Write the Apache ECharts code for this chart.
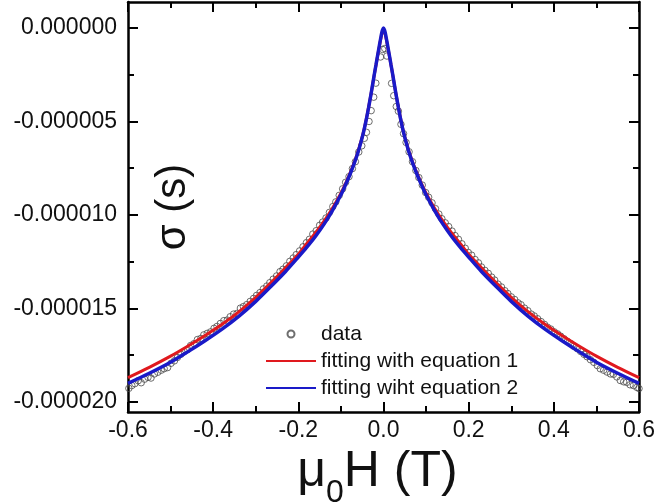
<!DOCTYPE html>
<html>
<head>
<meta charset="utf-8">
<script src="https://cdn.jsdelivr.net/npm/echarts@6/dist/echarts.min.js"></script>
<style>html,body{margin:0;padding:0;background:#fff;}#chart{width:656px;height:503px;}</style>
</head>
<body>
<div id="chart"></div>
<script>
// ---- data (sigma values in units of 1e-6 S) ----
const xTicks = [-0.6, -0.4, -0.2, 0.0, 0.2, 0.4, 0.6];
const yMajorTicks = [-20, -15, -10, -5, 0];
const yMinorTicks = [-17.5, -12.5, -7.5, -2.5];

// measured data, field (T)
const dataB = [
 -0.598,-0.591,-0.584,-0.576,-0.569,-0.561,-0.553,-0.546,-0.538,-0.530,-0.522,-0.515,-0.507,-0.499,-0.491,-0.484,-0.476,-0.468,-0.460,-0.453,
 -0.445,-0.437,-0.429,-0.422,-0.414,-0.406,-0.398,-0.391,-0.383,-0.375,-0.367,-0.360,-0.352,-0.344,-0.336,-0.329,-0.321,-0.313,-0.305,-0.298,
 -0.290,-0.282,-0.274,-0.267,-0.259,-0.251,-0.243,-0.236,-0.228,-0.220,-0.212,-0.205,-0.197,-0.189,-0.181,-0.174,-0.166,-0.158,-0.150,-0.143,
 -0.135,-0.127,-0.119,-0.112,-0.104,-0.096,-0.089,-0.081,-0.073,-0.066,-0.058,-0.051,-0.045,-0.040,-0.034,-0.029,-0.023,-0.018,-0.007,-0.002,
 0.003,0.008,0.019,0.024,0.030,0.035,0.041,0.047,0.053,0.060,0.068,0.076,0.083,0.091,0.099,0.106,0.114,0.122,0.130,0.137,
 0.145,0.153,0.161,0.168,0.176,0.184,0.192,0.199,0.207,0.215,0.223,0.230,0.238,0.246,0.254,0.261,0.269,0.277,0.285,0.292,
 0.300,0.308,0.316,0.323,0.331,0.339,0.347,0.354,0.362,0.370,0.378,0.385,0.393,0.401,0.409,0.416,0.424,0.432,0.440,0.447,
 0.455,0.463,0.471,0.478,0.486,0.494,0.502,0.509,0.517,0.525,0.533,0.540,0.548,0.556,0.564,0.571,0.579,0.587,0.595,0.600
];
// measured data, sigma (1e-6 S)
const dataS = [
 -19.27,-19.12,-19.02,-18.86,-18.97,-18.78,-18.68,-18.72,-18.50,-18.41,-18.30,-18.22,-18.16,-17.93,-17.80,-17.62,-17.45,-17.30,-17.20,-16.98,
 -16.88,-16.66,-16.60,-16.41,-16.33,-16.25,-16.06,-15.96,-15.80,-15.65,-15.62,-15.44,-15.30,-15.26,-14.98,-14.90,-14.79,-14.62,-14.46,-14.30,
 -14.15,-13.95,-13.80,-13.62,-13.43,-13.26,-13.03,-12.90,-12.72,-12.48,-12.30,-12.12,-11.92,-11.70,-11.48,-11.30,-11.02,-10.84,-10.55,-10.38,
 -10.16,-9.86,-9.55,-9.30,-8.95,-8.60,-8.25,-7.95,-7.52,-7.15,-6.63,-6.30,-5.90,-5.58,-5.00,-4.42,-3.70,-2.95,-1.55,-1.15,
 -1.10,-1.50,-2.96,-3.62,-4.20,-4.45,-5.15,-5.65,-6.12,-6.62,-7.15,-7.62,-8.00,-8.40,-8.80,-9.05,-9.35,-9.66,-9.95,-10.20,
 -10.42,-10.62,-10.86,-11.10,-11.30,-11.54,-11.78,-12.00,-12.15,-12.38,-12.56,-12.78,-12.96,-13.12,-13.32,-13.48,-13.70,-13.85,-14.05,-14.20,
 -14.38,-14.52,-14.70,-14.80,-14.98,-15.12,-15.30,-15.40,-15.55,-15.70,-15.85,-16.00,-16.10,-16.25,-16.36,-16.48,-16.62,-16.76,-16.88,-17.02,
 -17.15,-17.30,-17.45,-17.58,-17.74,-17.88,-18.05,-18.22,-18.30,-18.40,-18.50,-18.52,-18.66,-18.85,-18.92,-18.95,-19.08,-19.12,-19.22,-19.28
];

// fitted curves (symmetric in field), |B| in T
const fitAbsB = [0,0.002,0.004,0.006,0.008,0.010,0.0125,0.015,0.0175,0.02,0.025,0.03,0.035,0.04,0.045,0.05,0.06,0.07,0.08,0.09,0.1,0.12,0.14,0.16,0.18,0.2,0.23,0.26,0.3,0.34,0.38,0.42,0.46,0.5,0.55,0.6];
const fit1S = [-0.1,-0.18,-0.33,-0.54,-0.77,-1.02,-1.33,-1.65,-1.97,-2.29,-2.96,-3.62,-4.24,-4.83,-5.36,-5.83,-6.62,-7.27,-7.84,-8.36,-8.83,-9.64,-10.34,-10.96,-11.52,-12.1,-12.82,-13.52,-14.4,-15.18,-15.86,-16.46,-17.02,-17.55,-18.15,-18.7];
const fit2S = [0,-0.08,-0.25,-0.48,-0.72,-0.98,-1.3,-1.62,-1.95,-2.27,-2.95,-3.62,-4.25,-4.85,-5.38,-5.85,-6.66,-7.32,-7.9,-8.43,-8.92,-9.76,-10.5,-11.15,-11.72,-12.25,-13.02,-13.72,-14.62,-15.42,-16.12,-16.74,-17.32,-17.87,-18.46,-19.0];

const seriesNames = ['data', 'fitting with equation 1', 'fitting wiht equation 2'];

// ---- build ----
function mirror(absB, s) {
  const pts = [];
  for (let i = absB.length - 1; i > 0; i--) pts.push([-absB[i], s[i]]);
  for (let i = 0; i < absB.length; i++) pts.push([absB[i], s[i]]);
  return pts;
}
const scatterData = dataB.map((b, i) => [b, dataS[i]]);

const FONT = 'Arial, "Liberation Sans", sans-serif';
const TXT = '#111';
const axisLineStyle = { color: '#000', width: 2.5 };
const chart = echarts.init(document.getElementById('chart'), null, { renderer: 'canvas' });

const xCommon = {
  type: 'value', min: -0.6, max: 0.6, interval: 0.2,
  axisLine: { show: true, onZero: false, lineStyle: axisLineStyle },
  axisTick: { show: true, inside: true, length: 10, lineStyle: { color: '#000', width: 2 } },
  minorTick: { show: true, splitNumber: 2, length: 6, lineStyle: { color: '#000', width: 2 } },
  splitLine: { show: false }
};
const yRange = { type: 'value', min: -20.535, max: 1.39 };
function yTickAxis(pos, values, len, withLine) {
  return Object.assign({}, yRange, {
    position: pos,
    axisLine: { show: withLine, onZero: false, lineStyle: axisLineStyle },
    axisTick: { show: true, inside: true, length: len, customValues: values, lineStyle: { color: '#000', width: 2 } },
    axisLabel: { show: false }, splitLine: { show: false }
  });
}

chart.setOption({
  animation: false,
  backgroundColor: '#fff',
  grid: { left: 128, right: 17, top: 2, bottom: 91, containLabel: false, outerBoundsMode: 'none' },
  legend: {
    orient: 'vertical', left: 265, top: 323, padding: 0,
    itemWidth: 50, itemHeight: 7, itemGap: 5,
    textStyle: { fontFamily: FONT, fontSize: 21, color: TXT, lineHeight: 22 },
    data: [
      { name: seriesNames[0] },
      { name: seriesNames[1], itemStyle: { color: 'rgba(0,0,0,0)', borderWidth: 0 } },
      { name: seriesNames[2], itemStyle: { color: 'rgba(0,0,0,0)', borderWidth: 0 } }
    ]
  },
  xAxis: [
    Object.assign({}, xCommon, {
      position: 'bottom',
      axisLabel: { show: true, fontFamily: FONT, fontSize: 23, color: TXT, margin: 7,
        formatter: v => v.toFixed(1) },
      name: '{a|μ}{sub|0}{a|H (T)}{s| }',
      nameLocation: 'middle', nameGap: 17,
      nameTextStyle: {
        fontFamily: FONT, color: TXT, padding: [0, 12, 0, 0],
        rich: {
          a: { fontFamily: FONT, fontSize: 50, lineHeight: 52, verticalAlign: 'top', color: TXT },
          sub: { fontFamily: FONT, fontSize: 32, lineHeight: 24, verticalAlign: 'bottom', color: TXT },
          s: { fontSize: 1, lineHeight: 62, verticalAlign: 'bottom' }
        }
      }
    }),
    Object.assign({}, xCommon, { position: 'top', axisLabel: { show: false } })
  ],
  yAxis: [
    Object.assign({}, yRange, {
      position: 'left',
      axisLine: { show: true, onZero: false, lineStyle: axisLineStyle },
      axisTick: { show: true, inside: true, length: 10, customValues: yMajorTicks, lineStyle: { color: '#000', width: 2 } },
      axisLabel: { show: true, fontFamily: FONT, fontSize: 23, color: TXT, margin: 11,
        customValues: yMajorTicks, formatter: v => (v * 1e-6).toFixed(6) },
      splitLine: { show: false },
      name: 'σ (s)', nameLocation: 'middle', nameRotate: 90, nameGap: -66,
      nameTextStyle: { fontFamily: FONT, fontSize: 42, color: TXT }
    }),
    yTickAxis('left', yMinorTicks, 6, false),
    yTickAxis('right', yMajorTicks, 10, true),
    yTickAxis('right', yMinorTicks, 6, false)
  ],
  series: [
    {
      name: seriesNames[0], type: 'scatter', data: scatterData,
      symbol: 'circle', symbolSize: 6.5,
      itemStyle: { color: 'rgba(255,255,255,0)', borderColor: '#4a4a4a', borderWidth: 1 }
    },
    {
      name: seriesNames[1], type: 'line', data: mirror(fitAbsB, fit1S),
      symbol: 'none', smooth: 0.3, lineStyle: { color: '#e0191e', width: 3 }, itemStyle: { color: '#e0191e' }
    },
    {
      name: seriesNames[2], type: 'line', data: mirror(fitAbsB, fit2S),
      symbol: 'none', smooth: 0.3, lineStyle: { color: '#1a1ac8', width: 3.5 }, itemStyle: { color: '#1a1ac8' }
    }
  ]
});
</script>
</body>
</html>
